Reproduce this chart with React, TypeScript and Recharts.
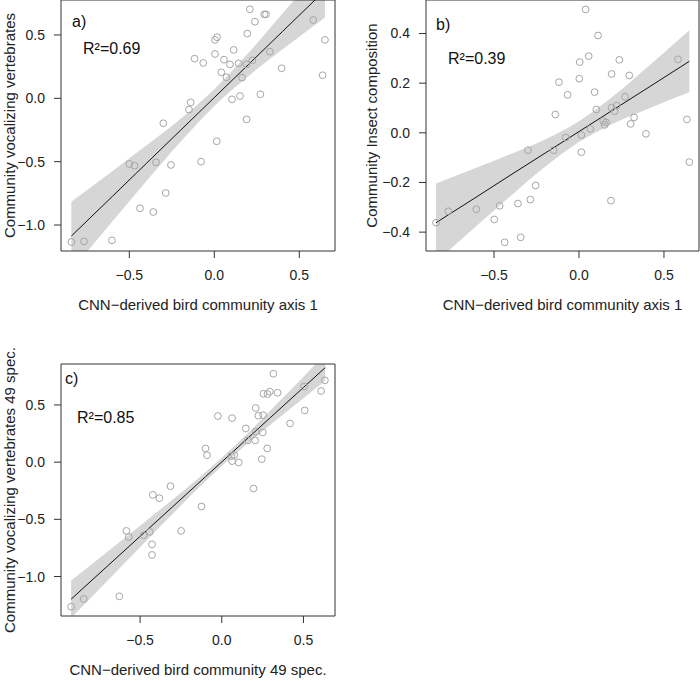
import React from "react";
import { ComposedChart, XAxis, YAxis, Scatter, Line, Area, ReferenceArea } from "recharts";

const FONT = '"Liberation Sans", Arial, Helvetica, sans-serif';

// a) vocalizing vertebrates vs CNN axis 1
const pointsA: [number, number][] = [
  [0.209, 0.703], [0.294, 0.663], [0.304, 0.663], [0.239, 0.605], [0.582, 0.618],
  [0.651, 0.461], [0.194, 0.511], [0.016, 0.482], [0.004, 0.461], [0.114, 0.382],
  [0.327, 0.368], [0.004, 0.35], [-0.116, 0.313], [-0.065, 0.279], [0.057, 0.305],
  [0.092, 0.268], [0.143, 0.276], [0.19, 0.268], [0.224, 0.3], [0.396, 0.237],
  [0.637, 0.182], [0.041, 0.205], [0.071, 0.166], [0.163, 0.163], [-0.139, -0.032],
  [-0.149, -0.089], [0.104, -0.008], [0.151, 0.018], [0.271, 0.032], [0.19, -0.166],
  [-0.3, -0.197], [0.014, -0.339], [-0.5, -0.518], [-0.469, -0.532], [-0.343, -0.505],
  [-0.255, -0.526], [-0.078, -0.5], [-0.286, -0.747], [-0.437, -0.868], [-0.359, -0.897],
  [-0.841, -1.134], [-0.767, -1.129], [-0.602, -1.121],
];
const bandAX = [-0.841, -0.6, -0.4, -0.2, 0, 0.2, 0.4, 0.651];
const bandALo = [-1.358, -0.973, -0.655, -0.345, -0.06, 0.175, 0.385, 0.638];
const bandAHi = [-0.816, -0.575, -0.373, -0.163, 0.072, 0.357, 0.667, 1.066];
const fitA = [-1.087, -0.774, -0.514, -0.254, 0.006, 0.266, 0.526, 0.852];

// b) insect composition vs CNN axis 1
const pointsB: [number, number][] = [
  [0.039, 0.497], [0.112, 0.392], [0.057, 0.309], [0.004, 0.285], [0.237, 0.294],
  [0.582, 0.296], [-0.118, 0.204], [0.002, 0.218], [0.192, 0.237], [0.296, 0.231],
  [-0.067, 0.153], [0.092, 0.164], [0.271, 0.145], [-0.139, 0.074], [0.102, 0.094],
  [0.192, 0.101], [0.222, 0.11], [0.21, 0.087], [0.143, 0.048], [0.159, 0.042],
  [0.151, 0.032], [0.324, 0.062], [0.304, 0.036], [0.635, 0.054], [0.067, 0.016],
  [0.394, -0.004], [0.014, -0.009], [-0.078, -0.019], [0.649, -0.118], [-0.3, -0.07],
  [-0.149, -0.07], [0.014, -0.078], [-0.255, -0.212], [-0.286, -0.269], [-0.359, -0.285],
  [0.188, -0.273], [-0.467, -0.294], [-0.604, -0.308], [-0.769, -0.316], [-0.841, -0.362],
  [-0.498, -0.349], [-0.343, -0.421], [-0.437, -0.441],
];
const bandBX = [-0.841, -0.6, -0.4, -0.2, 0, 0.2, 0.4, 0.649];
const bandBLo = [-0.52, -0.373, -0.253, -0.137, -0.037, 0.037, 0.095, 0.163];
const bandBHi = [-0.204, -0.14, -0.085, -0.027, 0.047, 0.147, 0.263, 0.413];
const fitB = [-0.362, -0.257, -0.169, -0.082, 0.005, 0.092, 0.179, 0.288];

// c) 49 species subset
const pointsC: [number, number][] = [
  [0.316, 0.773], [0.631, 0.715], [0.504, 0.662], [0.608, 0.622], [0.255, 0.598],
  [0.28, 0.595], [0.294, 0.616], [0.341, 0.607], [0.208, 0.473], [0.508, 0.452],
  [-0.024, 0.403], [0.063, 0.385], [0.224, 0.406], [0.253, 0.411], [0.418, 0.338],
  [0.147, 0.295], [0.208, 0.266], [0.251, 0.26], [0.159, 0.19], [0.204, 0.19],
  [-0.1, 0.12], [0.278, 0.12], [-0.09, 0.061], [0.059, 0.053], [0.076, 0.061],
  [0.063, 0.009], [0.104, -0.003], [0.245, 0.026], [0.194, -0.231], [-0.314, -0.21],
  [-0.422, -0.286], [-0.382, -0.315], [-0.124, -0.388], [-0.584, -0.601], [-0.569, -0.654],
  [-0.478, -0.639], [-0.441, -0.61], [-0.249, -0.601], [-0.427, -0.718], [-0.427, -0.811],
  [-0.627, -1.173], [-0.845, -1.196], [-0.922, -1.264],
];
const bandCX = [-0.922, -0.7, -0.5, -0.3, -0.1, 0.1, 0.3, 0.5, 0.633];
const bandCLo = [-1.362, -1.036, -0.743, -0.452, -0.168, 0.092, 0.33, 0.559, 0.711];
const bandCHi = [-1.034, -0.783, -0.555, -0.326, -0.088, 0.172, 0.456, 0.747, 0.941];
const fitC = [-1.198, -0.909, -0.649, -0.389, -0.128, 0.132, 0.393, 0.653, 0.826];

const ticksX = [-0.5, 0, 0.5];
const ticksYVert = [-1, -0.5, 0, 0.5];
const ticksYInsect = [-0.4, -0.2, 0, 0.2, 0.4];

const fmt = (v: number) => (v < 0 ? "\u2212" : "") + Math.abs(v).toFixed(1);

const Ring = (p: any) => (
  <circle cx={p.cx} cy={p.cy} r={3.4} fill="none" stroke="#a6a6a6" strokeWidth={1} />
);

type PanelProps = {
  left: number;
  top: number;
  width: number;
  height: number;
  marginTop: number;
  marginRight: number;
  yAxisWidth: number;
  xAxisHeight: number;
  xDomain: [number, number];
  yDomain: [number, number];
  yTicks: number[];
  points: [number, number][];
  bandX: number[];
  bandLo: number[];
  bandHi: number[];
  fit: number[];
  xLabel: string;
  yLabel: string;
  xLabelOffset: number;
  yLabelOffset: number;
  tag: string;
  r2: string;
  tagPos: [number, number];
  r2Pos: [number, number];
};

const Panel = (p: PanelProps) => {
  const rows = p.bandX.map((x, i) => ({ x, band: [p.bandLo[i], p.bandHi[i]], fit: p.fit[i] }));
  const pts = p.points.map(([x, y]) => ({ x, y }));
  const tickStyle = { fontSize: 14, fill: "#222", fontFamily: FONT };
  const labelStyle = { fontSize: 15, fill: "#222", fontFamily: FONT };
  return (
    <div style={{ position: "absolute", left: p.left, top: p.top, width: p.width, height: p.height }}>
      <ComposedChart
        width={p.width}
        height={p.height}
        data={rows}
        margin={{ top: p.marginTop, right: p.marginRight, bottom: 0, left: 0 }}
      >
        <XAxis
          dataKey="x"
          type="number"
          domain={p.xDomain}
          allowDataOverflow
          ticks={ticksX}
          interval={0}
          tickFormatter={fmt}
          height={p.xAxisHeight}
          axisLine={false}
          tickLine={{ stroke: "#333" }}
          tickSize={7}
          tickMargin={12}
          tick={tickStyle}
          label={{ value: p.xLabel, position: "insideBottom", offset: p.xLabelOffset, style: labelStyle }}
        />
        <YAxis
          type="number"
          domain={p.yDomain}
          allowDataOverflow
          ticks={p.yTicks}
          interval={0}
          tickFormatter={fmt}
          width={p.yAxisWidth}
          axisLine={false}
          tickLine={{ stroke: "#333" }}
          tickSize={7}
          tickMargin={9}
          tick={tickStyle}
          label={{
            value: p.yLabel,
            angle: -90,
            position: "insideLeft",
            offset: p.yLabelOffset,
            style: { ...labelStyle, textAnchor: "middle" },
          }}
        />
        <Area
          dataKey="band"
          type="monotone"
          stroke="none"
          fill="#d6d6d6"
          fillOpacity={1}
          dot={false}
          activeDot={false}
          isAnimationActive={false}
        />
        <Scatter data={pts} dataKey="y" shape={Ring} isAnimationActive={false} />
        <Line
          dataKey="fit"
          type="linear"
          stroke="#111"
          strokeWidth={1}
          dot={false}
          activeDot={false}
          isAnimationActive={false}
        />
        <ReferenceArea
          x1={p.xDomain[0]}
          x2={p.xDomain[1]}
          y1={p.yDomain[0]}
          y2={p.yDomain[1]}
          fill="none"
          fillOpacity={0}
          stroke="#333"
          strokeWidth={1}
        />
      </ComposedChart>
      <div style={{ position: "absolute", left: p.tagPos[0], top: p.tagPos[1], fontFamily: FONT, fontSize: 16, lineHeight: "16px", color: "#111" }}>
        {p.tag}
      </div>
      <div style={{ position: "absolute", left: p.r2Pos[0], top: p.r2Pos[1], fontFamily: FONT, fontSize: 16, lineHeight: "16px", color: "#111" }}>
        {p.r2}
      </div>
    </div>
  );
};

export default function App() {
  return (
    <div style={{ position: "absolute", left: 0, top: 0, width: 700, height: 681, background: "#fff" }}>
      <Panel
        left={0}
        top={0}
        width={350}
        height={330}
        marginTop={0}
        marginRight={15}
        yAxisWidth={61}
        xAxisHeight={79}
        xDomain={[-0.902, 0.71]}
        yDomain={[-1.205, 0.776]}
        yTicks={ticksYVert}
        points={pointsA}
        bandX={bandAX}
        bandLo={bandALo}
        bandHi={bandAHi}
        fit={fitA}
        xLabel="CNN−derived bird community axis 1"
        yLabel="Community vocalizing vertebrates"
        xLabelOffset={20}
        yLabelOffset={10}
        tag="a)"
        r2="R²=0.69"
        tagPos={[72, 14]}
        r2Pos={[83, 41]}
      />
      <Panel
        left={350}
        top={0}
        width={350}
        height={330}
        marginTop={0}
        marginRight={1}
        yAxisWidth={76}
        xAxisHeight={79}
        xDomain={[-0.9, 0.706]}
        yDomain={[-0.476, 0.535]}
        yTicks={ticksYInsect}
        points={pointsB}
        bandX={bandBX}
        bandLo={bandBLo}
        bandHi={bandBHi}
        fit={fitB}
        xLabel="CNN−derived bird community axis 1"
        yLabel="Community Insect composition"
        xLabelOffset={20}
        yLabelOffset={22}
        tag="b)"
        r2="R²=0.39"
        tagPos={[86, 17]}
        r2Pos={[98, 51]}
      />
      <Panel
        left={0}
        top={340}
        width={350}
        height={341}
        marginTop={24}
        marginRight={15}
        yAxisWidth={61}
        xAxisHeight={65}
        xDomain={[-0.984, 0.693]}
        yDomain={[-1.345, 0.858]}
        yTicks={ticksYVert}
        points={pointsC}
        bandX={bandCX}
        bandLo={bandCLo}
        bandHi={bandCHi}
        fit={fitC}
        xLabel="CNN−derived bird community 49 spec."
        yLabel="Community vocalizing vertebrates 49 spec."
        xLabelOffset={6}
        yLabelOffset={10}
        tag="c)"
        r2="R²=0.85"
        tagPos={[65, 31]}
        r2Pos={[77, 70]}
      />
    </div>
  );
}
